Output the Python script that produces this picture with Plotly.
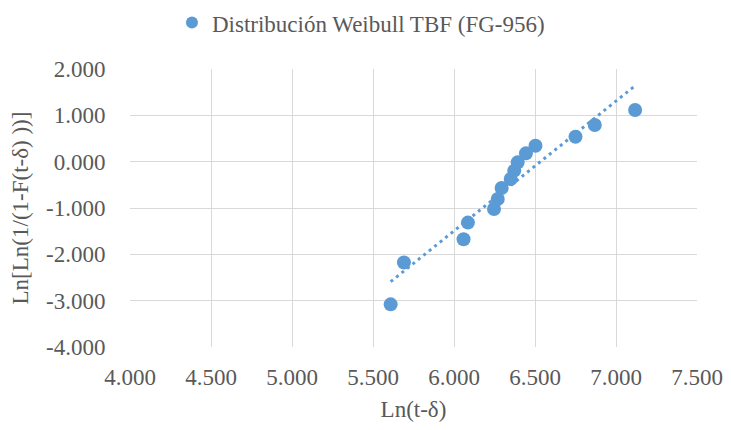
import numpy as np
import plotly.graph_objects as go

# Data
ln_t = [5.609, 5.691, 6.059, 6.086, 6.247, 6.270, 6.294, 6.350, 6.372, 6.393, 6.444, 6.503, 6.750, 6.869, 7.118]
ln_ln = [-3.08, -2.177, -1.675, -1.315, -1.02, -0.805, -0.568, -0.373, -0.194, -0.015, 0.18, 0.345, 0.539, 0.79, 1.114]
series_name = "Distribución Weibull TBF (FG-956)"
x_ticks = [4.0, 4.5, 5.0, 5.5, 6.0, 6.5, 7.0, 7.5]
y_ticks = [-4.0, -3.0, -2.0, -1.0, 0.0, 1.0, 2.0]

# Linear trendline (least squares) over data range
slope, intercept = np.polyfit(ln_t, ln_ln, 1)
tx = np.array([min(ln_t), max(ln_t)])
ty = slope * tx + intercept

blue = "#5B9BD5"
grey_text = "#595959"
grid = "#D9D9D9"
font_family = "Liberation Serif"

fig = go.Figure()
fig.add_trace(go.Scatter(
    x=tx, y=ty, mode="lines",
    line=dict(color=blue, width=3, dash="3px,4px"),
    showlegend=False, hoverinfo="skip"))
fig.add_trace(go.Scatter(
    x=ln_t, y=ln_ln, mode="markers", name=series_name,
    marker=dict(color=blue, size=14, line=dict(width=0))))

fig.update_layout(
    width=723, height=414,
    margin=dict(l=122, r=34, t=60.6, b=75, autoexpand=False),
    paper_bgcolor="white", plot_bgcolor="white",
    font=dict(family=font_family, color=grey_text, size=23),
    legend=dict(orientation="h", x=0.074, xanchor="left", y=1.167, yanchor="middle",
                font=dict(family=font_family, size=23, color=grey_text), itemsizing="constant",
                bgcolor="rgba(0,0,0,0)", itemwidth=30),
    showlegend=True,
)
fig.update_xaxes(
    range=[4.0, 7.5], tickvals=x_ticks, ticktext=[f"{v:.3f}" for v in x_ticks],
    showgrid=True, gridcolor=grid, gridwidth=1, zeroline=False, showline=False,
    ticks="outside", ticklen=9, tickcolor="rgba(0,0,0,0)", ticklabeloverflow="allow",
    tickfont=dict(family=font_family, size=23, color=grey_text),
    title=dict(text="Ln(t-δ)", font=dict(family=font_family, size=23, color=grey_text), standoff=13),
)
fig.update_yaxes(
    range=[-4.0, 2.0], tickvals=y_ticks, ticktext=[f"{v:.3f}" for v in y_ticks],
    showgrid=True, gridcolor=grid, gridwidth=1, zeroline=False, showline=False,
    ticks="outside", ticklen=19, tickcolor="rgba(0,0,0,0)",
    tickfont=dict(family=font_family, size=23, color=grey_text),
    title=dict(text="Ln[Ln(1/(1-F(t-δ) ))]", font=dict(family=font_family, size=23, color=grey_text), standoff=18),
)

fig.write_html("out.html")
